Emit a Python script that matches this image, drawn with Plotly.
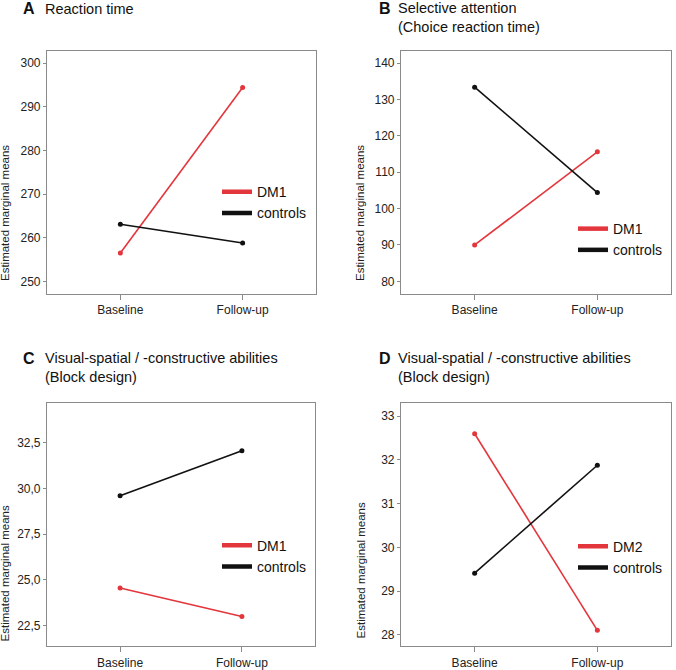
import plotly.graph_objects as go

timepoints = ["Baseline", "Follow-up"]

# Panel A: Reaction time
a_dm1 = [256.5, 294.4]
a_ctrl = [263.1, 258.8]
# Panel B: Selective attention
b_dm1 = [90.0, 115.6]
b_ctrl = [133.4, 104.4]
# Panel C: Block design (DM1)
c_dm1 = [24.55, 22.99]
c_ctrl = [29.61, 32.08]
# Panel D: Block design (DM2)
d_dm2 = [32.6, 28.1]
d_ctrl = [29.41, 31.88]

RED = "#e3363c"
BLACK = "#111111"
FRAME = "#8a8a8a"
FONT = "Liberation Sans, Arial, sans-serif"
W, H = 676, 670

panels = [
    dict(dm=a_dm1, ctrl=a_ctrl, dmname="DM1", ax="", yr=[247.2, 302.8], dtick=10, fmt=None,
         dom_x=[47, 316], dom_y=[51, 295], leg=(217, 177)),
    dict(dm=b_dm1, ctrl=b_ctrl, dmname="DM1", ax="2", yr=[76.6, 143.4], dtick=10, fmt=None,
         dom_x=[401, 671], dom_y=[51, 295], leg=(573, 214)),
    dict(dm=c_dm1, ctrl=c_ctrl, dmname="DM1", ax="3", yr=[21.37, 34.68], dtick=2.5, fmt=".1f",
         dom_x=[47, 315], dom_y=[405, 649], leg=(217, 532)),
    dict(dm=d_dm2, ctrl=d_ctrl, dmname="DM2", ax="4", yr=[27.74, 33.30], dtick=1, fmt=None,
         dom_x=[401, 671], dom_y=[405, 649], leg=(573, 533)),
]

fig = go.Figure()
layout = {}
for i, p in enumerate(panels):
    xa = "x" + p["ax"]
    ya = "y" + p["ax"]
    legname = "legend" + p["ax"]
    for vals, col, name in [(p["dm"], RED, p["dmname"]), (p["ctrl"], BLACK, "controls")]:
        fig.add_trace(go.Scatter(
            x=timepoints, y=vals, mode="lines+markers", xaxis=xa, yaxis=ya,
            line=dict(color=col, width=1.6), marker=dict(color=col, size=5),
            showlegend=False, hoverinfo="skip"))
    for col, name in [(RED, p["dmname"]), (BLACK, "controls")]:
        fig.add_trace(go.Scatter(
            x=[None], y=[None], mode="lines", xaxis=xa, yaxis=ya, name=name,
            line=dict(color=col, width=4.5), legend=legname, showlegend=True))
    axis_common = dict(showline=True, mirror=True, linecolor=FRAME, linewidth=1.2,
                       showgrid=False, zeroline=False, ticks="outside", ticklen=4,
                       tickcolor=FRAME, tickfont=dict(family=FONT, size=12, color="#222"))
    layout["xaxis" + p["ax"]] = dict(
        axis_common, domain=[p["dom_x"][0] / W, p["dom_x"][1] / W],
        anchor=ya, type="category", range=[-0.6, 1.6], ticklen=5)
    yd = dict(axis_common, domain=[1 - p["dom_y"][1] / H, 1 - p["dom_y"][0] / H],
              anchor=xa, range=p["yr"], dtick=p["dtick"], tick0=0, ticklen=3)
    if p["fmt"]:
        yd["tickformat"] = p["fmt"]
    layout["yaxis" + p["ax"]] = yd
    layout[legname] = dict(
        x=p["leg"][0] / W, y=1 - p["leg"][1] / H, xanchor="left", yanchor="top",
        bgcolor="rgba(0,0,0,0)", font=dict(family=FONT, size=14, color="#111"),
        tracegroupgap=0, itemwidth=30)

annotations = []
titles = [
    ("A", "Reaction time", 21, 43, 9),
    ("B", "Selective attention<br>(Choice reaction time)", 377, 396, 18),
    ("C", "Visual-spatial / -constructive abilities<br>(Block design)", 21, 43, 369),
    ("D", "Visual-spatial / -constructive abilities<br>(Block design)", 377, 396, 369),
]
for letter, text, lx, tx, ty in titles:
    first_line_y = ty if "<br>" not in text else ty - 9
    annotations.append(dict(text="<b>" + letter + "</b>", x=lx / W, y=1 - first_line_y / H,
                            xref="paper", yref="paper", xanchor="left", yanchor="middle",
                            showarrow=False, font=dict(family=FONT, size=16, color="#111")))
    annotations.append(dict(text=text, x=tx / W, y=1 - ty / H, xref="paper", yref="paper",
                            xanchor="left", yanchor="middle", align="left", showarrow=False,
                            font=dict(family=FONT, size=14.5, color="#111")))
for xpx, ypx in [(5, 214), (360, 214), (5, 576), (361, 573)]:
    annotations.append(dict(text="Estimated marginal means", x=xpx / W, y=1 - ypx / H,
                            xref="paper", yref="paper", xanchor="center", yanchor="middle",
                            textangle=-90, showarrow=False,
                            font=dict(family=FONT, size=11.5, color="#222")))

fig.update_layout(**layout)
fig.update_layout(
    width=W, height=H, margin=dict(l=0, r=0, t=0, b=0),
    paper_bgcolor="white", plot_bgcolor="white",
    separators=",.", annotations=annotations,
    font=dict(family=FONT),
)
fig.write_html("out.html", config={"displayModeBar": False},
               post_script="document.body.style.margin='0px';document.body.style.overflow='hidden';")
